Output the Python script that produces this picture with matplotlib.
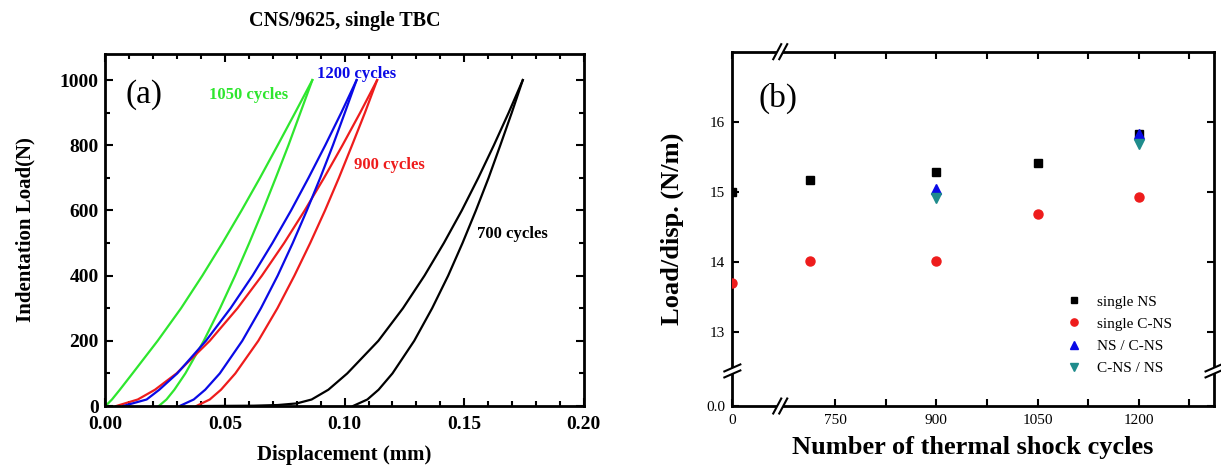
import numpy as np
import matplotlib
matplotlib.use("Agg")
import matplotlib.pyplot as plt
from matplotlib.scale import FuncScale
from matplotlib.patches import Rectangle

plt.rcParams['font.family'] = ['Liberation Serif', 'DejaVu Serif']

# ------------------------------------------------------------
# (a) load / displacement curves
#     displacement (mm) at each load level (N)
# ------------------------------------------------------------
loads = [0, 20, 50, 100, 200, 300, 400, 500, 600, 700, 800, 900, 1000]

green_load_x = [0.0, 0.0027, 0.0060, 0.0113, 0.0218, 0.0316, 0.0405, 0.0489,
                0.0569, 0.0646, 0.0720, 0.0793, 0.0865]
green_unl_x = [0.0223, 0.0255, 0.0288, 0.0334, 0.0411, 0.0479, 0.0542, 0.0601,
               0.0658, 0.0712, 0.0765, 0.0815, 0.0865]

blue_load_x = [0.0074, 0.0172, 0.0225, 0.0300, 0.0420, 0.0523, 0.0615, 0.0698,
               0.0776, 0.0849, 0.0919, 0.0986, 0.1050]
blue_unl_x = [0.0310, 0.0369, 0.0417, 0.0478, 0.0572, 0.0650, 0.0720, 0.0783,
              0.0842, 0.0898, 0.0951, 0.1001, 0.1050]

red_load_x = [0.0045, 0.0135, 0.0207, 0.0297, 0.0436, 0.0552, 0.0654, 0.0747,
              0.0833, 0.0914, 0.0991, 0.1065, 0.1136]
red_unl_x = [0.0380, 0.0436, 0.0483, 0.0543, 0.0639, 0.0719, 0.0790, 0.0856,
             0.0918, 0.0976, 0.1031, 0.1085, 0.1136]

# the 700-cycle loading branch has a long flat tail
black_load_x = [0.040, 0.062, 0.072, 0.080, 0.0862, 0.0932, 0.1011, 0.1141, 0.1244,
                0.1334, 0.1415, 0.1490, 0.1559, 0.1624, 0.1686, 0.1745]
black_load_y = [0, 1, 3, 8, 20, 50, 100, 200, 300, 400, 500, 600, 700, 800, 900, 1000]
black_unl_x = [0.1035, 0.1095, 0.1142, 0.1200, 0.1291, 0.1366, 0.1433, 0.1493,
               0.1549, 0.1602, 0.1651, 0.1699, 0.1745]

curve_labels = ['1050 cycles', '1200 cycles', '900 cycles', '700 cycles']
curve_label_x = [0.0433, 0.0883, 0.1038, 0.1553]
curve_label_y = [954, 1020, 740, 528]

# ------------------------------------------------------------
# (b) load/disp. vs thermal shock cycles
# ------------------------------------------------------------
ns_x = [0, 712, 900, 1050, 1200]
ns_y = [15.00, 15.17, 15.29, 15.42, 15.82]
cns_x = [0, 712, 900, 1050, 1200]
cns_y = [13.70, 14.02, 14.02, 14.69, 14.93]
ns_cns_x = [900, 1200]
ns_cns_y = [15.05, 15.82]
cns_ns_x = [900, 1200]
cns_ns_y = [14.92, 15.68]

GREEN = '#2ee62e'
BLUE = '#0a0ae6'
RED = '#ee1c1c'
TEAL = '#1f8c8c'

# break positions of the right panel
XB0, XB1 = 71.0, 668.5
YB0, YB1 = 0.5, 12.45


def fwd_x(x):
    x = np.asarray(x, dtype=float)
    return np.where(x <= XB0, x, np.where(x >= XB1, x - (XB1 - XB0), XB0))


def inv_x(u):
    u = np.asarray(u, dtype=float)
    return np.where(u <= XB0, u, u + (XB1 - XB0))


def fwd_y(y):
    y = np.asarray(y, dtype=float)
    return np.where(y <= YB0, y, np.where(y >= YB1, y - (YB1 - YB0), YB0))


def inv_y(u):
    u = np.asarray(u, dtype=float)
    return np.where(u <= YB0, u, u + (YB1 - YB0))


FIG_W, FIG_H = 1221, 472
fig = plt.figure(figsize=(FIG_W / 100, FIG_H / 100), dpi=100)

# ==========================================
# panel (a)
# ==========================================
ax1 = fig.add_axes([0.0864, 0.1398, 0.3917, 0.7458])
lw = 1.6
ax1.plot(green_load_x, loads, color=GREEN, lw=lw)
ax1.plot(green_unl_x, loads, color=GREEN, lw=lw)
ax1.plot(red_load_x, loads, color=RED, lw=lw)
ax1.plot(red_unl_x, loads, color=RED, lw=lw)
ax1.plot(blue_load_x, loads, color=BLUE, lw=lw)
ax1.plot(blue_unl_x, loads, color=BLUE, lw=lw)
ax1.plot(black_load_x, black_load_y, color='black', lw=lw)
ax1.plot(black_unl_x, loads, color='black', lw=lw)

for txt, tx, ty, c in zip(curve_labels, curve_label_x, curve_label_y,
                          [GREEN, BLUE, RED, 'black']):
    ax1.text(tx, ty, txt, color=c, fontsize=12, fontweight='bold',
             ha='left', va='center')

ax1.set_xlim(0, 0.20)
ax1.set_ylim(0, 1080)
ax1.set_xticks([0.0, 0.05, 0.10, 0.15, 0.20],
               labels=['0.00', '0.05', '0.10', '0.15', '0.20'],
               fontsize=14, fontweight='bold')
ax1.set_yticks([0, 200, 400, 600, 800, 1000],
               labels=['0', '200', '400', '600', '800', '1000'],
               fontsize=14, fontweight='bold')
ax1.set_xticks(np.arange(0, 0.2001, 0.01), minor=True)
ax1.set_yticks(np.arange(0, 1001, 100), minor=True)
ax1.tick_params(which='both', direction='in', top=True, right=True, width=1.5)
ax1.tick_params(which='major', length=6, pad=5)
ax1.tick_params(axis='x', which='major', pad=7)
ax1.tick_params(which='minor', length=3.5)
for s in ax1.spines.values():
    s.set_linewidth(2)

ax1.set_xlabel('Displacement (mm)', fontsize=15, fontweight='bold')
ax1.set_ylabel('Indentation Load(N)', fontsize=15, fontweight='bold')
ax1.xaxis.set_label_coords(0.5, -0.112)
ax1.yaxis.set_label_coords(-0.146, 0.5)
ax1.text(0.5, 1.094, 'CNS/9625, single TBC', transform=ax1.transAxes,
         fontsize=14.5, fontweight='bold', ha='center', va='center')
ax1.text(0.042, 0.885, '(a)', transform=ax1.transAxes, fontsize=24,
         ha='left', va='center')

# ==========================================
# panel (b)
# ==========================================
ax2 = fig.add_axes([0.5998, 0.1398, 0.3941, 0.7507])
ax2.set_xscale(FuncScale(ax2, (fwd_x, inv_x)))
ax2.set_yscale(FuncScale(ax2, (fwd_y, inv_y)))

ax2.plot(ns_x, ns_y, 's', color='black', ms=6, label='single NS', zorder=3)
ax2.plot(cns_x, cns_y, 'o', color=RED, ms=6.5, label='single C-NS', zorder=3)
ax2.plot(ns_cns_x, ns_cns_y, '^', color=BLUE, ms=7, label='NS / C-NS', zorder=4)
ax2.plot(cns_ns_x, cns_ns_y, 'v', color=TEAL, ms=7, label='C-NS / NS', zorder=4)

ax2.set_xlim(0, 1311)
ax2.set_ylim(0, 17.0)
ax2.set_xticks([0, 750, 900, 1050, 1200],
               labels=['0', '750', '900', '1050', '1200'], fontsize=11)
ax2.set_xticks([825, 975, 1125, 1275], minor=True)
ax2.set_yticks([0, 13, 14, 15, 16],
               labels=['0.0', '13', '14', '15', '16'], fontsize=11)
ax2.yaxis.set_minor_locator(plt.NullLocator())
ax2.tick_params(which='both', direction='in', top=True, right=True,
                width=1.5, length=5)
ax2.tick_params(axis='x', which='major', pad=6)
ax2.tick_params(axis='y', which='major', pad=5)
for s in ax2.spines.values():
    s.set_linewidth(2)

ax2.set_xlabel('Number of thermal shock cycles', fontsize=19, fontweight='bold')
ax2.set_ylabel('Load/disp. (N/m)', fontsize=19, fontweight='bold')
ax2.xaxis.set_label_coords(0.5, -0.085)
ax2.yaxis.set_label_coords(-0.10, 0.5)
ax2.text(0.054, 0.867, '(b)', transform=ax2.transAxes, fontsize=24,
         ha='left', va='center')

ax2.legend(loc='upper left', bbox_to_anchor=(0.665, 0.352), frameon=False,
           fontsize=11, numpoints=1, handlelength=1.0, handletextpad=1.0,
           labelspacing=0.55, markerscale=0.8)

# axis break marks
pos = ax2.get_position()
aw, ah = pos.width * FIG_W, pos.height * FIG_H
u_lo, u_hi = float(fwd_x(0)), float(fwd_x(1311))
fx = (float(fwd_x(XB0)) - u_lo) / (u_hi - u_lo)
fy = float(fwd_y(YB0)) / float(fwd_y(17.0))

for yy in (0.0, 1.0):
    ax2.add_patch(Rectangle((fx - 3 / aw, yy - 4 / ah), 6 / aw, 8 / ah,
                            transform=ax2.transAxes, facecolor='white',
                            edgecolor='none', clip_on=False, zorder=6))
    for off in (-3.0, 3.0):
        ax2.plot([fx + (off - 4) / aw, fx + (off + 4) / aw],
                 [yy - 7.5 / ah, yy + 7.5 / ah], color='black', lw=1.5,
                 transform=ax2.transAxes, clip_on=False, zorder=7)

for xx in (0.0, 1.0):
    ax2.add_patch(Rectangle((xx - 4 / aw, fy - 3 / ah), 8 / aw, 6 / ah,
                            transform=ax2.transAxes, facecolor='white',
                            edgecolor='none', clip_on=False, zorder=6))
    for off in (-3.0, 3.0):
        ax2.plot([xx - 8 / aw, xx + 8 / aw],
                 [fy + (off - 3.5) / ah, fy + (off + 3.5) / ah], color='black',
                 lw=1.5, transform=ax2.transAxes, clip_on=False, zorder=7)

fig.savefig('out.png', dpi=100)
